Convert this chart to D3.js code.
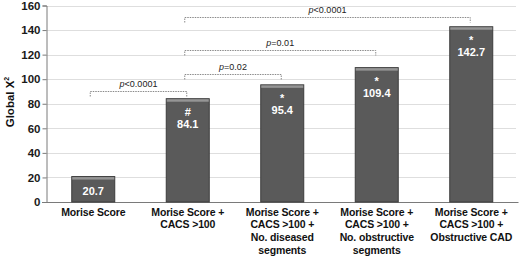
<!DOCTYPE html>
<html><head><meta charset="utf-8">
<script src="https://cdnjs.cloudflare.com/ajax/libs/d3/7.8.5/d3.min.js"></script>
<style>
html,body{margin:0;padding:0;background:#fff;}
svg{display:block;font-family:"Liberation Sans",Arial,sans-serif;}
</style></head>
<body><svg id="c" width="520" height="257"></svg>
<script>
const categories = [
  ["Morise Score"],
  ["Morise Score +", "CACS >100"],
  ["Morise Score +", "CACS >100 +", "No. diseased", "segments"],
  ["Morise Score +", "CACS >100 +", "No. obstructive", "segments"],
  ["Morise Score +", "CACS >100 +", "Obstructive CAD"]
];
const values = [20.7, 84.1, 95.4, 109.4, 142.7];
const markers = ["", "#", "*", "*", "*"];
const yTicks = [0, 20, 40, 60, 80, 100, 120, 140, 160];
const bracketFrom = [0, 1, 1, 1];
const bracketTo = [1, 2, 3, 4];
const bracketLevel = [90.4, 104.5, 124, 150.5];
const bracketOp = ["<0.0001", "=0.02", "=0.01", "<0.0001"];

(function () {
const svg = d3.select("#c");
const mLeft = 46, mRight = 518.5, mTop = 5.5, mBottom = 202;
const ids = categories.map((c, i) => i);
const x = d3.scaleBand().domain(ids).range([mLeft, mRight]).paddingInner(0.545).paddingOuter(0.2725);
const y = d3.scaleLinear().domain([0, 160]).range([mBottom, mTop]);

// gridlines
svg.append("g").selectAll("line").data(yTicks.filter(t => t > 0)).join("line")
  .attr("x1", mLeft).attr("x2", 516).attr("y1", d => Math.round(y(d)) + 0.5).attr("y2", d => Math.round(y(d)) + 0.5)
  .attr("stroke", "#dedede").attr("stroke-width", 1);

// y axis
const ya = svg.append("g").attr("transform", `translate(${mLeft + 0.5},0)`)
  .call(d3.axisLeft(y).tickValues(yTicks).tickSize(4).tickPadding(2));
ya.select(".domain").attr("stroke", "#7a7a7a");
ya.selectAll(".tick line").attr("stroke", "#7a7a7a");
ya.selectAll(".tick text").attr("font-size", "11.5px").attr("font-weight", "bold")
  .attr("fill", "#1a1a1a").attr("font-family", '"Liberation Sans",Arial,sans-serif');

// x axis line
svg.append("line").attr("x1", mLeft - 4).attr("x2", mRight).attr("y1", mBottom + 0.5).attr("y2", mBottom + 0.5)
  .attr("stroke", "#7a7a7a");

// bars
const bars = svg.append("g").selectAll("g").data(ids).join("g");
bars.append("rect")
  .attr("x", i => x(i)).attr("y", i => y(values[i]))
  .attr("width", x.bandwidth()).attr("height", i => y(0) - y(values[i]))
  .attr("fill", "#5a5a5a").attr("stroke", "#3c3c3c").attr("stroke-width", 1);
bars.append("rect")
  .attr("x", i => x(i) + 0.5).attr("y", i => y(values[i]) + 0.5)
  .attr("width", x.bandwidth() - 1).attr("height", 2.5)
  .attr("fill", "#959595");
bars.append("text")
  .attr("x", i => x(i) + x.bandwidth() / 2)
  .attr("y", i => y(values[i]) + 17.5)
  .attr("text-anchor", "middle").attr("font-size", "11px").attr("font-weight", "bold").attr("fill", "#fff")
  .text(i => markers[i]);
bars.append("text")
  .attr("x", i => x(i) + x.bandwidth() / 2)
  .attr("y", i => y(values[i]) + (markers[i] ? 29 : 18))
  .attr("text-anchor", "middle").attr("font-size", "11px").attr("font-weight", "bold").attr("fill", "#fff")
  .text(i => values[i].toFixed(1));

// category labels
const cl = svg.append("g").selectAll("text").data(ids).join("text")
  .attr("x", i => x(i) + x.bandwidth() / 2).attr("y", 215.5)
  .attr("text-anchor", "middle").attr("font-size", "10.5px").attr("font-weight", "bold")
  .attr("letter-spacing", "-0.15px").attr("fill", "#111");
cl.selectAll("tspan").data(i => categories[i].map(s => ({s, i}))).join("tspan")
  .attr("x", d => x(d.i) + x.bandwidth() / 2)
  .attr("dy", (d, k) => k === 0 ? 0 : 12.8)
  .text(d => d.s);

// brackets
const bg = svg.append("g");
bracketFrom.forEach((f, k) => {
  const x1 = x(f) + x.bandwidth() / 2 - 3;
  const x2 = x(bracketTo[k]) + x.bandwidth() / 2 - 1;
  const yy = Math.round(y(bracketLevel[k])) + 0.5;
  bg.append("path")
    .attr("d", `M${x1},${yy + 5}V${yy}H${x2}V${yy + 5}`)
    .attr("fill", "none").attr("stroke", "#8a8a8a").attr("stroke-width", 1)
    .attr("stroke-dasharray", "1.5,1");
  const t = bg.append("text").attr("x", (x1 + x2) / 2).attr("y", yy - 4.5)
    .attr("text-anchor", "middle").attr("font-size", "9px").attr("fill", "#222");
  t.append("tspan").attr("font-style", "italic").text("p");
  t.append("tspan").text(bracketOp[k]);
});

// y title
const yt = svg.append("text").attr("transform", "translate(14,102) rotate(-90)")
  .attr("text-anchor", "middle").attr("font-size", "11.5px").attr("font-weight", "bold").attr("fill", "#111");
yt.append("tspan").text("Global Χ");
yt.append("tspan").attr("font-size", "7px").attr("dy", "-5").text("2");
})();
</script></body></html>
